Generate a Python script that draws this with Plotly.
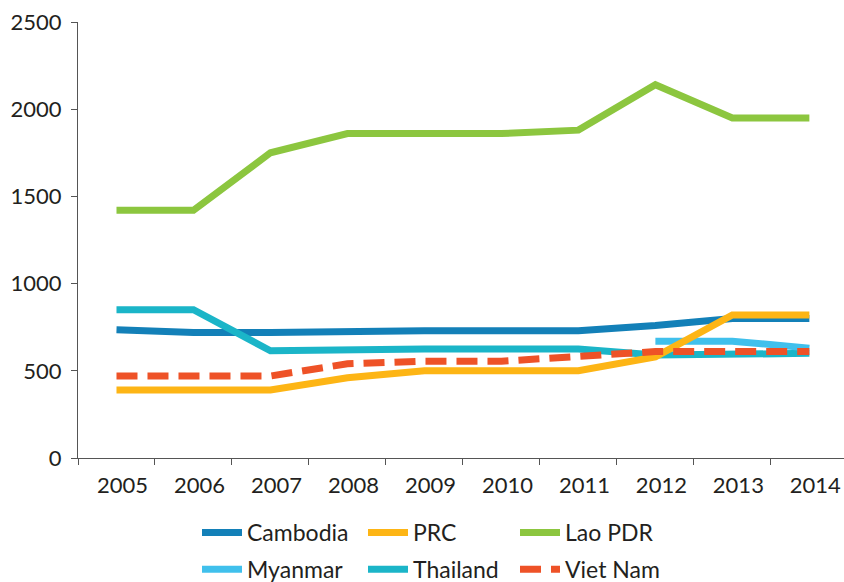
import plotly.graph_objects as go

years = ["2005", "2006", "2007", "2008", "2009", "2010", "2011", "2012", "2013", "2014"]

cambodia = [735, 720, 720, 730, 730, 730, 730, 760, 800, 800]
prc = [390, 390, 390, 460, 500, 500, 500, 580, 820, 820]
lao_pdr = [1420, 1420, 1750, 1860, 1860, 1860, 1880, 2140, 1950, 1950]
myanmar = [None, None, None, None, None, None, None, 670, 670, 630]
thailand = [850, 850, 615, 625, 625, 625, 625, 590, 595, 600]
viet_nam = [470, 470, 470, 540, 555, 555, 580, 610, 610, 610]

# (name, values, colour, legend, rank within legend, dash)
series = [
    ("Cambodia", cambodia, "#1380b8", "legend", 1, "solid"),
    ("Thailand", thailand, "#1bb5c8", "legend2", 2, "solid"),
    ("Myanmar", myanmar, "#40c0ec", "legend", 2, "solid"),
    ("PRC", prc, "#fdb515", "legend2", 1, "solid"),
    ("Lao PDR", lao_pdr, "#8cc63f", "legend3", 1, "solid"),
    ("Viet Nam", viet_nam, "#ee5227", "legend3", 2, "21px,10px"),
]

fig = go.Figure()
for name, vals, color, leg, rank, dash in series:
    fig.add_trace(go.Scatter(
        x=years, y=vals, name=name, mode="lines",
        line=dict(color=color, width=7, dash=dash),
        legend=leg, legendrank=rank, legendgroup=name,
        connectgaps=False,
    ))

W, H = 844, 582
ml, mt, mb = 78, 22, 124
plot_w = W - ml
plot_h = H - mt - mb


def px_x(p):
    return (p - ml) / plot_w


def px_y(p):
    return (H - mb - p) / plot_h


font_family = "Lato, 'Open Sans', sans-serif"
text_color = "#231f20"
leg_top = 511
leg_common = dict(
    orientation="v", xanchor="left", yanchor="top", y=px_y(leg_top),
    bgcolor="rgba(0,0,0,0)", borderwidth=0, tracegroupgap=4,
    font=dict(family=font_family, size=23, color=text_color),
    itemwidth=40,
)

fig.update_layout(
    width=W, height=H,
    margin=dict(l=ml, r=0, t=mt, b=mb, pad=0, autoexpand=False),
    paper_bgcolor="white", plot_bgcolor="white",
    font=dict(family=font_family, size=22, color=text_color),
    showlegend=True,
    legend=dict(x=px_x(197), **leg_common),
    legend2=dict(x=px_x(363), **leg_common),
    legend3=dict(x=px_x(515), **leg_common),
    xaxis=dict(
        type="category", range=[-0.5, 9.45],
        showgrid=False, zeroline=False,
        showline=True, linecolor="#555555", linewidth=1.2,
        ticks="outside", ticklen=6, tickcolor="#555555", tickwidth=1.2,
        tickson="boundaries", ticklabelshift=6, ticklabelstandoff=7,
        tickfont=dict(family=font_family, size=22, color=text_color),
    ),
    yaxis=dict(
        range=[0, 2500], tickvals=[0, 500, 1000, 1500, 2000, 2500],
        showgrid=False, zeroline=False,
        showline=True, linecolor="#555555", linewidth=1.2,
        ticks="outside", ticklen=6, tickcolor="#555555", tickwidth=1.2,
        ticklabelstandoff=5,
        tickfont=dict(family=font_family, size=22, color=text_color),
    ),
)

fig.write_html("out.html")
